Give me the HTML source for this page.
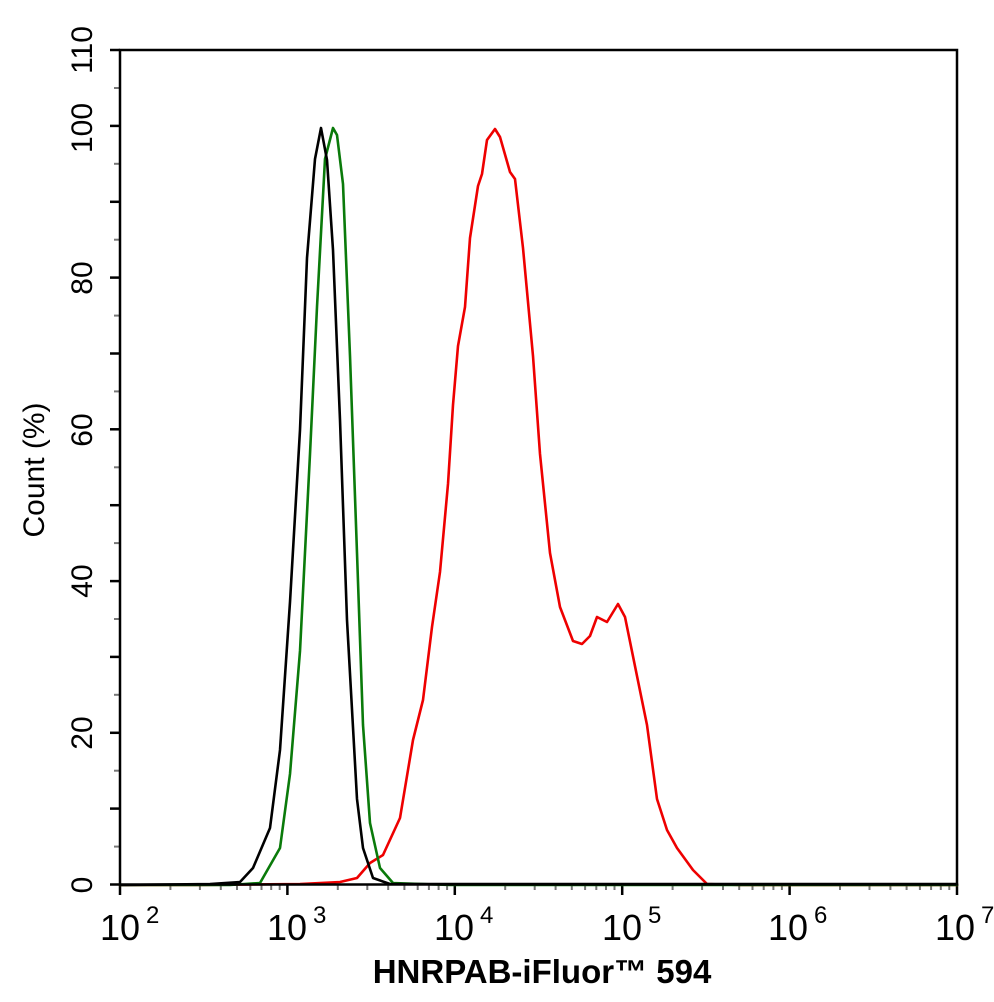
<!DOCTYPE html>
<html><head><meta charset="utf-8"><style>html,body{margin:0;padding:0;background:#fff}svg{display:block}</style></head>
<body>
<svg width="994" height="1002" viewBox="0 0 994 1002" xmlns="http://www.w3.org/2000/svg" font-family="Liberation Sans, Arial, sans-serif">
<rect width="994" height="1002" fill="#fff"/>
<defs>
<g id="mt" stroke="#777" stroke-width="2">
<line x1="50.4" y1="885" x2="50.4" y2="890"/><line x1="79.9" y1="885" x2="79.9" y2="890"/>
<line x1="100.8" y1="885" x2="100.8" y2="890"/><line x1="117" y1="885" x2="117" y2="890"/>
<line x1="130.3" y1="885" x2="130.3" y2="890"/><line x1="141.5" y1="885" x2="141.5" y2="890"/>
<line x1="151.2" y1="885" x2="151.2" y2="890"/><line x1="159.7" y1="885" x2="159.7" y2="890"/>
</g>
</defs>
<use href="#mt" x="120"/><use href="#mt" x="287.4"/><use href="#mt" x="454.8"/><use href="#mt" x="622.2"/><use href="#mt" x="789.6"/>
<g stroke="#000" stroke-width="2.5">
<line x1="120" y1="885" x2="120" y2="895"/><line x1="287.4" y1="885" x2="287.4" y2="895"/>
<line x1="454.8" y1="885" x2="454.8" y2="895"/><line x1="622.2" y1="885" x2="622.2" y2="895"/>
<line x1="789.6" y1="885" x2="789.6" y2="895"/><line x1="957" y1="885" x2="957" y2="895"/>
<line x1="110" y1="884.5" x2="120" y2="884.5"/><line x1="110" y1="808.6" x2="120" y2="808.6"/>
<line x1="110" y1="732.8" x2="120" y2="732.8"/><line x1="110" y1="656.9" x2="120" y2="656.9"/>
<line x1="110" y1="581.1" x2="120" y2="581.1"/><line x1="110" y1="505.2" x2="120" y2="505.2"/>
<line x1="110" y1="429.3" x2="120" y2="429.3"/><line x1="110" y1="353.5" x2="120" y2="353.5"/>
<line x1="110" y1="277.6" x2="120" y2="277.6"/><line x1="110" y1="201.8" x2="120" y2="201.8"/>
<line x1="110" y1="125.9" x2="120" y2="125.9"/><line x1="110" y1="50" x2="120" y2="50"/>
</g>
<g stroke="#777" stroke-width="2">
<line x1="114" y1="846.6" x2="120" y2="846.6"/><line x1="114" y1="770.7" x2="120" y2="770.7"/>
<line x1="114" y1="694.8" x2="120" y2="694.8"/><line x1="114" y1="619" x2="120" y2="619"/>
<line x1="114" y1="543.1" x2="120" y2="543.1"/><line x1="114" y1="467.3" x2="120" y2="467.3"/>
<line x1="114" y1="391.4" x2="120" y2="391.4"/><line x1="114" y1="315.6" x2="120" y2="315.6"/>
<line x1="114" y1="239.7" x2="120" y2="239.7"/><line x1="114" y1="163.8" x2="120" y2="163.8"/>
<line x1="114" y1="88" x2="120" y2="88"/>
</g>
<g fill="none" stroke-width="2.6" stroke-linejoin="round" stroke-linecap="round">
<polyline stroke="#e00" points="120,885 200,885 300,884 340,882 357,878 370,863 383,855 400,818 413,740 423,700 432,627 440,572 448,484 453,405 458,346 465,307 470,238 478,186 482,174 487,140 495,129 500,137 510,172 515,179 523,248 533,356 540,454 550,553 560,607 573,641 582,644 590,636 597,617 607,622 618,604 625,617 637,676 647,725 657,799 667,830 677,848 693,870 707,884 740,885 957,885"/>
<polyline stroke="#0a7a0a" points="120,885 230,885 260,883 280,848 290,774 300,651 310,454 317,307 325,159 333,128 337,135 343,184 350,356 357,553 363,725 370,823 380,868 393,883 450,885 957,885"/>
<polyline stroke="#000" points="120,885 210,884 240,882 253,868 270,828 280,750 290,602 300,430 307,258 315,159 321,128 327,160 333,250 340,420 347,620 357,799 363,848 373,878 390,884 957,884"/>
</g>
<rect x="120" y="50" width="837" height="834.5" fill="none" stroke="#000" stroke-width="2.5"/>
<g font-size="30" fill="#000" text-anchor="middle">
<text transform="translate(92,885) rotate(-90)">0</text>
<text transform="translate(92,733) rotate(-90)">20</text>
<text transform="translate(92,581) rotate(-90)">40</text>
<text transform="translate(92,430) rotate(-90)">60</text>
<text transform="translate(92,278) rotate(-90)">80</text>
<text transform="translate(92,128) rotate(-90)">100</text>
<text transform="translate(92,50) rotate(-90)">110</text>
<text transform="translate(44,470) rotate(-90)" font-size="30">Count  (%)</text>
</g>
<g font-size="36" fill="#000">
<text x="100" y="940">10<tspan font-size="24" dy="-17" dx="6">2</tspan></text>
<text x="267" y="940">10<tspan font-size="24" dy="-17" dx="6">3</tspan></text>
<text x="434" y="940">10<tspan font-size="24" dy="-17" dx="6">4</tspan></text>
<text x="602" y="940">10<tspan font-size="24" dy="-17" dx="6">5</tspan></text>
<text x="768" y="940">10<tspan font-size="24" dy="-17" dx="6">6</tspan></text>
<text x="935" y="940">10<tspan font-size="24" dy="-17" dx="6">7</tspan></text>
</g>
<text x="542" y="983" font-size="33" font-weight="bold" text-anchor="middle">HNRPAB-iFluor™ 594</text>
</svg>
</body></html>
